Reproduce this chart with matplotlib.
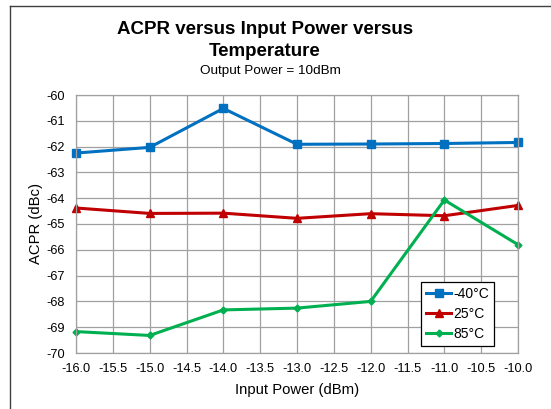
import numpy as np
import matplotlib.pyplot as plt
from matplotlib.lines import Line2D

plt.rcParams['font.family'] = ['Liberation Sans', 'DejaVu Sans']
plt.rcParams['axes.unicode_minus'] = False

# input power (dBm)
pin = [-16, -15, -14, -13, -12, -11, -10]
# ACPR (dBc) per temperature
acpr_m40 = [-62.25, -62.03, -60.52, -61.91, -61.90, -61.88, -61.84]
acpr_25 = [-64.38, -64.59, -64.58, -64.78, -64.60, -64.68, -64.28]
acpr_85 = [-69.17, -69.32, -68.33, -68.26, -68.00, -64.07, -65.80]
labels = ['-40°C', '25°C', '85°C']

W, H = 551, 409
fig = plt.figure(figsize=(W/100, H/100), dpi=100)
ax = fig.add_axes([76/W, 1-353/H, (518-76)/W, (353-95)/H])

ax.plot(pin, acpr_m40, color='#0070C0', lw=2.2, marker='s', ms=5.5, label=labels[0], clip_on=False)
ax.plot(pin, acpr_25, color='#C00000', lw=2.2, marker='^', ms=6, label=labels[1], clip_on=False)
ax.plot(pin, acpr_85, color='#00B050', lw=2.2, marker='D', ms=3.5, label=labels[2], clip_on=False)

ax.set_xlim(-16, -10)
ax.set_ylim(-70, -60)
xt = np.arange(-16, -9.99, 0.5)
ax.set_xticks(xt)
ax.set_xticklabels(['%.1f' % v for v in xt])
ax.set_yticks(np.arange(-70, -59.9, 1))
ax.grid(True, color='#A0A0A0', lw=0.9)
ax.set_axisbelow(True)
for s in ax.spines.values():
    s.set_color('#A0A0A0')
    s.set_linewidth(0.9)
ax.tick_params(length=0, labelsize=9.2)
ax.tick_params(axis='y', pad=8)
ax.tick_params(axis='x', pad=7)

ax.set_xlabel('Input Power (dBm)', fontsize=10.7, labelpad=6)
ax.set_ylabel('ACPR (dBc)', fontsize=10.7, labelpad=2)

fig.text(265/W, 1-30/H, 'ACPR versus Input Power versus', ha='center', va='center',
         fontsize=13.5, fontweight='bold')
fig.text(265/W, 1-51/H, 'Temperature', ha='center', va='center',
         fontsize=13.5, fontweight='bold')
fig.text(270/W, 1-71/H, 'Output Power = 10dBm', ha='center', va='center', fontsize=9.7)

leg = ax.legend(loc='lower right', bbox_to_anchor=((494-76)/(518-76), (353-346)/(353-95)),
                fontsize=10, frameon=True, fancybox=False, edgecolor='black',
                framealpha=1, handlelength=1.8, handletextpad=0.15, borderpad=0.35,
                labelspacing=0.45, borderaxespad=0)
leg.get_frame().set_linewidth(0.9)

# outer chart frame
fig.add_artist(Line2D([10/W, 10/W], [0, 1-6/H], color='#404040', lw=1))
fig.add_artist(Line2D([10/W, 1], [1-6/H, 1-6/H], color='#404040', lw=1))

fig.savefig('out.png', dpi=100)
